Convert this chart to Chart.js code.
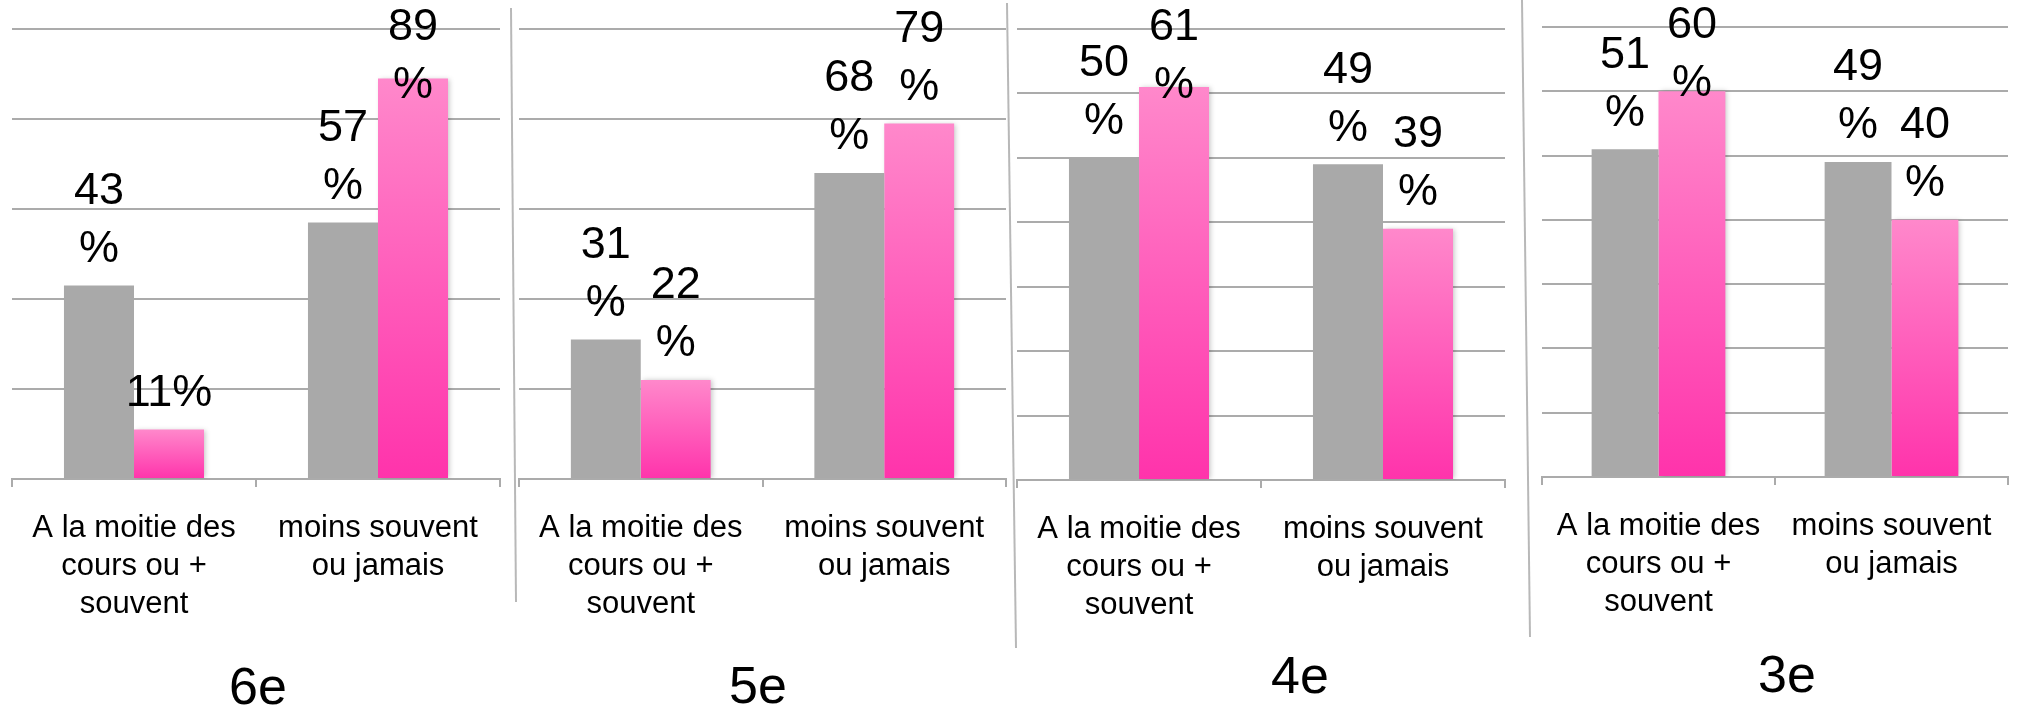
<!DOCTYPE html>
<html>
<head>
<meta charset="utf-8">
<script src="https://cdn.jsdelivr.net/npm/chart.js@4.4.1/dist/chart.umd.min.js"></script>
<style>
  body { margin: 0; background: #fff; }
  #wrap { position: relative; width: 2018px; height: 711px; overflow: hidden; }
  #wrap canvas { position: absolute; left: 0; top: 0; }
</style>
</head>
<body>
<div id="wrap">
  <canvas id="c6" width="2018" height="711"></canvas>
  <canvas id="c5" width="2018" height="711"></canvas>
  <canvas id="c4" width="2018" height="711"></canvas>
  <canvas id="c3" width="2018" height="711"></canvas>
</div>
<script>
// values (percent)
const categories = [['A la moitie des', 'cours ou +', 'souvent'], ['moins souvent', 'ou jamais']];
const levels = ['6e', '5e', '4e', '3e'];
const grey6e = [43, 57];
const pink6e = [11, 89];
const grey5e = [31, 68];
const pink5e = [22, 79];
const grey4e = [50, 49];
const pink4e = [61, 39];
const grey3e = [51, 49];
const pink3e = [60, 40];
const yMax = [100, 100, 70, 70];
const yStep = [20, 20, 10, 10];

const FONT = "'Liberation Sans', Arial, Helvetica, sans-serif";
const GRID = '#ababab';

// where each panel sits on the page (plot box, title centre, separator on its left)
const layout = [
    { left: 12, right: 500, top: 29, bottom: 479, tx: 258, ty: 690, sep: null },
    { left: 519, right: 1006, top: 29, bottom: 479, tx: 758, ty: 689, sep: [511, 8, 516, 602] },
    { left: 1017, right: 1505, top: 29, bottom: 480, tx: 1300, ty: 679, sep: [1007, 3, 1016, 648] },
    { left: 1542, right: 2008, top: 27, bottom: 477, tx: 1787, ty: 678, sep: [1522, 0, 1530, 637] }
];

// pink bars fade from light at the top to deep pink at the base
function pinkFill(ctx) {
    const chart = ctx.chart;
    if (!chart.chartArea || ctx.type !== 'data') return '#ff4db5';
    const y = chart.scales.y;
    const top = y.getPixelForValue(ctx.raw);
    const base = y.getPixelForValue(0);
    const g = chart.ctx.createLinearGradient(0, top, 0, base);
    g.addColorStop(0, '#ff88cb');
    g.addColorStop(1, '#ff33ab');
    return g;
}

const barShadow = {
    id: 'barShadow',
    beforeDatasetDraw(chart, args) {
        if (args.index !== 1) return;
        const c = chart.ctx;
        c.save();
        c.shadowColor = 'rgba(0,0,0,0.22)';
        c.shadowBlur = 5;
        c.shadowOffsetX = 2;
    },
    afterDatasetDraw(chart, args) {
        if (args.index === 1) chart.ctx.restore();
    }
};

// value labels above the bars, "43" / "%" on two lines, kept inside the top
const barLabels = {
    id: 'barLabels',
    afterDatasetsDraw(chart) {
        const c = chart.ctx;
        const top = chart.chartArea.top - 1;
        c.save();
        c.font = '45px ' + FONT;
        c.fillStyle = '#000';
        c.textAlign = 'center';
        c.textBaseline = 'middle';
        chart.data.datasets.forEach((ds, i) => {
            chart.getDatasetMeta(i).data.forEach((bar, j) => {
                const v = ds.data[j];
                let pct = bar.y - 36;
                if (v < 20) {
                    c.fillText(v + '%', bar.x, pct);
                    return;
                }
                let num = pct - 58;
                if (num < top) {
                    pct += top - num;
                    num = top;
                }
                c.fillText(String(v), bar.x, num);
                c.fillText('%', bar.x, pct);
            });
        });
        c.restore();
    }
};

// panel name under each chart and the thin grey line between screenshots
const panelDecor = {
    id: 'panelDecor',
    afterDraw(chart, args, opts) {
        const c = chart.ctx;
        c.save();
        if (opts.sep) {
            c.strokeStyle = '#b8b8b8';
            c.lineWidth = 2;
            c.beginPath();
            c.moveTo(opts.sep[0], opts.sep[1]);
            c.lineTo(opts.sep[2], opts.sep[3]);
            c.stroke();
        }
        c.font = '52px ' + FONT;
        c.fillStyle = '#000';
        c.textAlign = 'center';
        c.textBaseline = 'middle';
        c.fillText(opts.title, opts.tx, opts.ty);
        c.restore();
    }
};

function makeChart(id, k, grey, pink) {
    const L = layout[k];
    return new Chart(document.getElementById(id), {
        type: 'bar',
        data: {
            labels: categories,
            datasets: [
                { data: grey, backgroundColor: '#a9a9a9' },
                { data: pink, backgroundColor: pinkFill }
            ]
        },
        options: {
            responsive: false,
            animation: false,
            layout: {
                padding: { left: L.left, right: 2018 - L.right, top: L.top, bottom: 711 - L.bottom - 150 }
            },
            datasets: {
                bar: { categoryPercentage: 0.574, barPercentage: 1, borderWidth: 0 }
            },
            plugins: {
                legend: { display: false },
                tooltip: { enabled: false },
                panelDecor: { title: levels[k], tx: L.tx, ty: L.ty, sep: L.sep }
            },
            scales: {
                x: {
                    grid: { offset: true, drawOnChartArea: false, drawTicks: true, tickLength: 8, color: GRID, lineWidth: 2 },
                    border: { display: true, color: GRID, width: 2 },
                    ticks: {
                        color: '#000',
                        font: { family: FONT, size: 31, lineHeight: 1.226 },
                        padding: 22,
                        maxRotation: 0,
                        autoSkip: false
                    },
                    afterFit(s) { s.height = 150; }
                },
                y: {
                    min: 0,
                    max: yMax[k],
                    ticks: { display: false, stepSize: yStep[k] },
                    grid: { color: GRID, lineWidth: 2, drawTicks: false },
                    border: { display: false },
                    afterFit(s) { s.width = 0; }
                }
            }
        },
        plugins: [barShadow, barLabels, panelDecor]
    });
}

makeChart('c6', 0, grey6e, pink6e);
makeChart('c5', 1, grey5e, pink5e);
makeChart('c4', 2, grey4e, pink4e);
makeChart('c3', 3, grey3e, pink3e);
</script>
</body>
</html>
